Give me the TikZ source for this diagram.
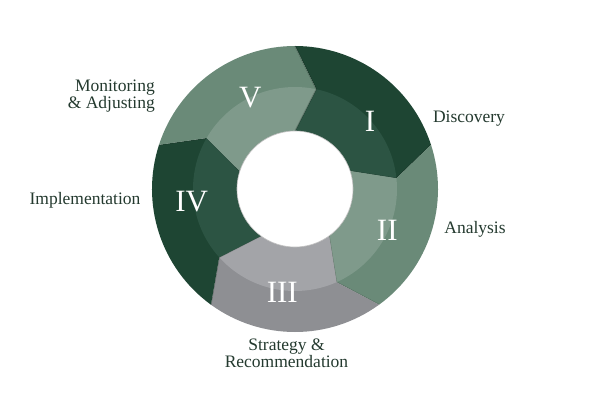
\documentclass[tikz,border=0pt]{standalone}
\usepackage{fontspec}
\setmainfont{Liberation Serif}
\definecolor{dkout}{HTML}{1E4533}
\definecolor{dkin}{HTML}{2C5443}
\definecolor{mdout}{HTML}{6A8A78}
\definecolor{mdin}{HTML}{7F9A8B}
\definecolor{gyout}{HTML}{8E8F93}
\definecolor{gyin}{HTML}{A3A4A8}
\definecolor{txt}{HTML}{243A2F}
\newcommand{\segpath}[2]{(#1:143) arc[start angle=#1, end angle=#2, radius=143] -- ({#2-12}:102) -- (#2:58) arc[start angle=#2, end angle=#1, radius=58] -- ({#1-12}:102) -- cycle}
\newcommand{\ringseg}[4]{%
  \fill[#3] \segpath{#1}{#2};
  \begin{scope}
    \clip (0,0) circle (102);
    \fill[#4] \segpath{#1}{#2};
  \end{scope}
  \draw[black, opacity=0.18, line width=1.2pt, line join=miter] (#2:143) -- ({#2-12}:102) -- (#2:58);
}
\tikzset{
  numeral/.style={text=white, font=\fontsize{31}{31}\selectfont, inner sep=0pt},
  lbl/.style={text=txt, font=\fontsize{17.5}{17}\selectfont, inner sep=0pt}
}
\begin{document}
\begin{tikzpicture}[x=1pt, y=1pt]
\useasboundingbox (0,0) rectangle (600,400);
\fill[white] (0,0) rectangle (600,400);
\begin{scope}[shift={(295,211)}]
  \ringseg{90}{18}{dkout}{dkin}
  \ringseg{18}{-54}{mdout}{mdin}
  \ringseg{-54}{-126}{gyout}{gyin}
  \ringseg{-126}{-198}{dkout}{dkin}
  \ringseg{162}{90}{mdout}{mdin}
  \fill[white] (0,0) circle (58);
  \draw[black!25, line width=0.6pt] (0,0) circle (58);
  \node[numeral] (nI) at (42:101) {I};
  \node[numeral] (nII) at (-24:101) {II};
  \node[numeral] (nIII) at (-97:104) {III};
  \node[numeral] (nIV) at (-173:104) {IV};
  \node[numeral] (nV) at (116:102) {V};
\end{scope}
\node[lbl, anchor=east, align=right] (mon) at (155,304) {Monitoring\\\& Adjusting};
\node[lbl] (imp) at (85,200) {Implementation};
\node[lbl] (dis) at (469,281) {Discovery};
\node[lbl] (ana) at (475,171) {Analysis};
\node[lbl, align=center] (str) at (286.5,47) {Strategy \&\\Recommendation};
\end{tikzpicture}
\end{document}
